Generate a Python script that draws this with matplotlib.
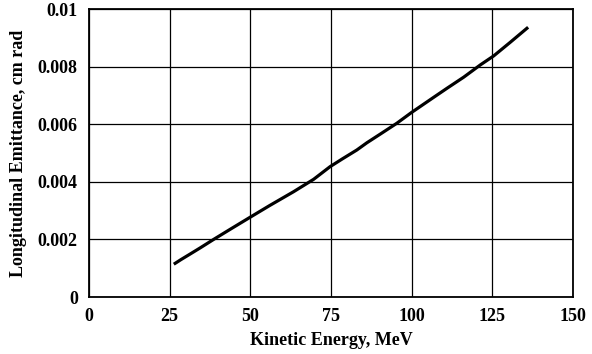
import numpy as np
import matplotlib
matplotlib.use("Agg")
import matplotlib.pyplot as plt

energy = [26.7, 28.5, 31.0, 34.5, 38.6, 44.0, 49.9, 56.0, 63.4, 69.6, 74.7,
          78.5, 83.0, 86.1, 90.5, 95.4, 99.9, 106.8, 111.0, 116.1, 121.3,
          125.4, 130.5, 135.7]
emittance = [0.00117, 0.00130, 0.00147, 0.00171, 0.00200, 0.00237, 0.00277,
             0.00318, 0.00366, 0.00409, 0.00453, 0.00480, 0.00511, 0.00536,
             0.00568, 0.00604, 0.00641, 0.00694, 0.00726, 0.00764, 0.00807,
             0.00838, 0.00885, 0.00934]
xticks = [0, 25, 50, 75, 100, 125, 150]
yticks = [0, 0.002, 0.004, 0.006, 0.008, 0.01]
ytick_labels = ["0", "0.002", "0.004", "0.006", "0.008", "0.01"]

plt.rcParams['font.family'] = ['Liberation Serif', 'DejaVu Serif']
plt.rcParams['font.weight'] = 'bold'

fig = plt.figure(figsize=(5.92, 3.54), dpi=100)
ax = fig.add_axes([0.1503, 0.161, 0.8177, 0.8127])

ax.plot(energy, emittance, color='black', lw=2.3)

ax.set_xlim(0, 150)
ax.set_ylim(0, 0.01)
ax.set_xticks(xticks)
ax.set_yticks(yticks)
ax.set_yticklabels(ytick_labels)
ax.grid(True, color='black', lw=0.9)
ax.tick_params(length=0, labelsize=13, pad=8)
for lbl in ax.get_xticklabels() + ax.get_yticklabels():
    lbl.set_fontweight('bold')
for s in ax.spines.values():
    s.set_linewidth(1.3)

ax.set_xlabel("Kinetic Energy, MeV", fontsize=13, fontweight='bold', labelpad=5)
ax.set_ylabel("Longitudinal Emittance, cm rad", fontsize=13, fontweight='bold', labelpad=8)

fig.savefig("out.png", dpi=100)
